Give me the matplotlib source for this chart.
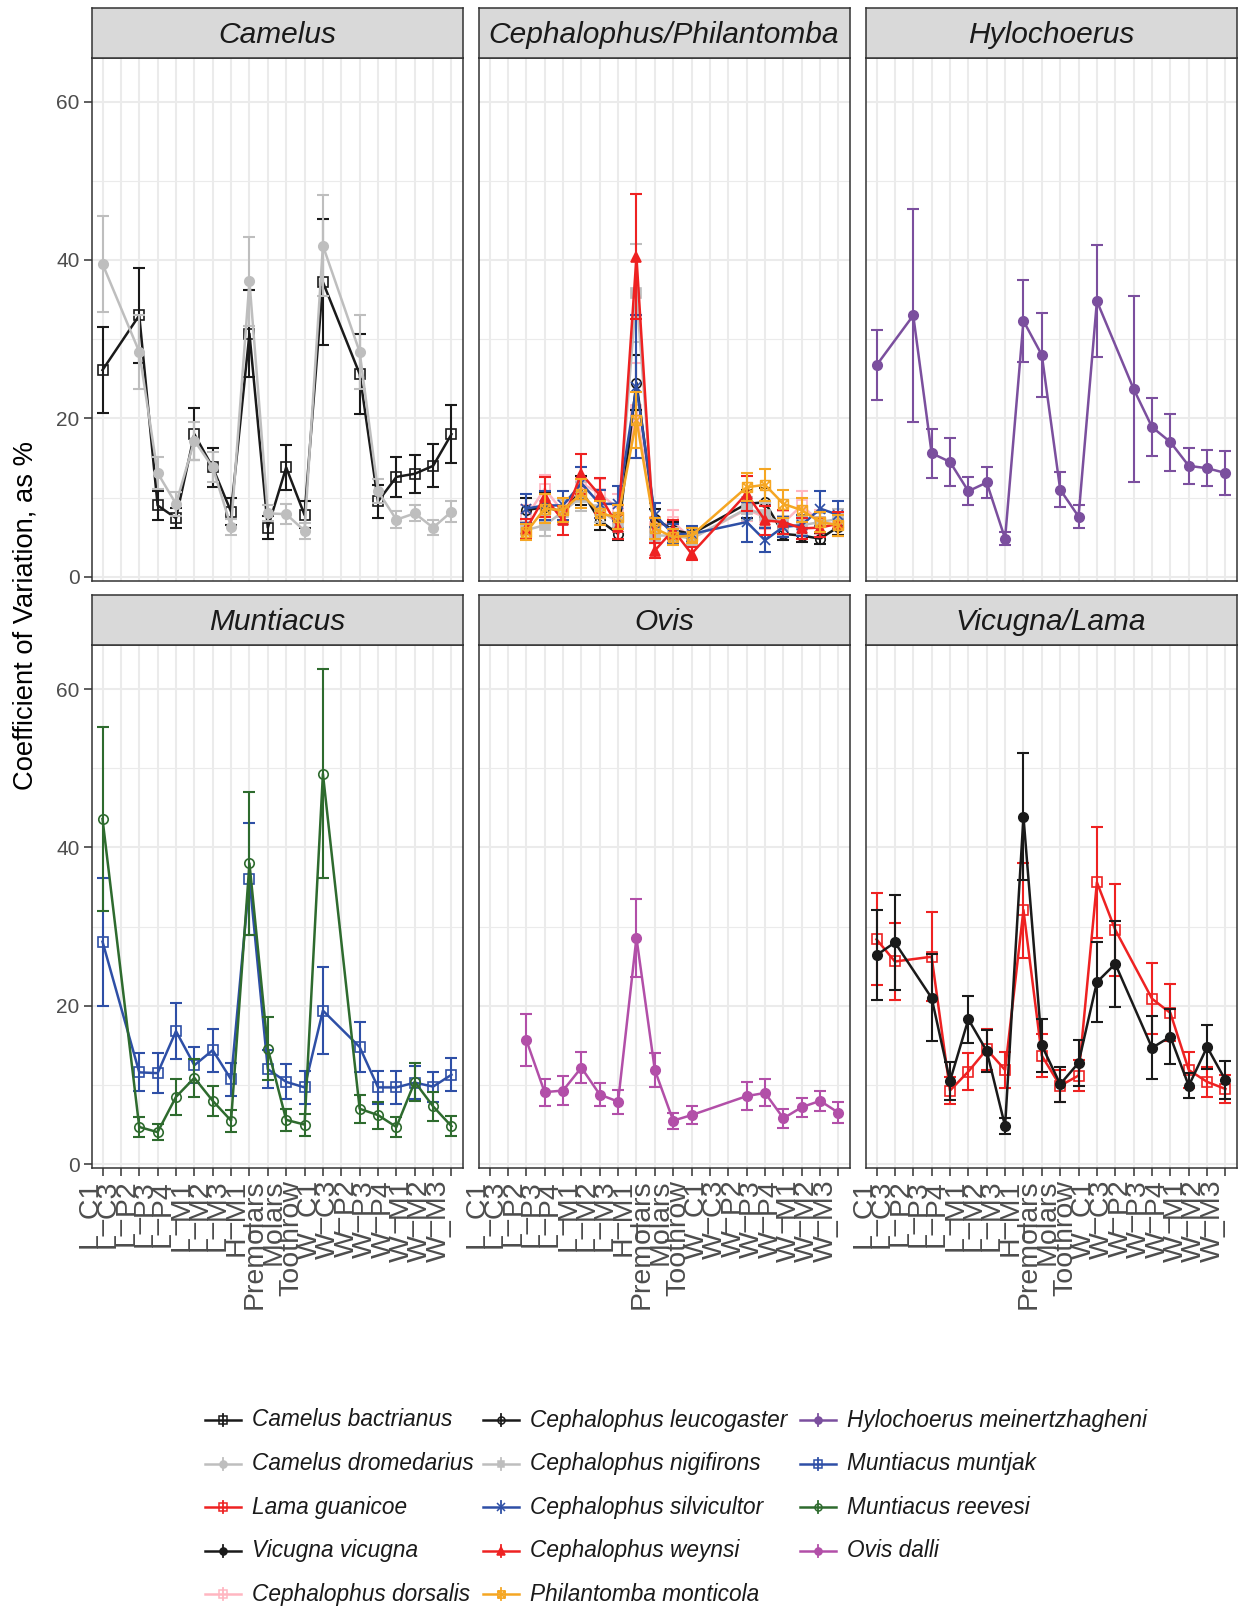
import numpy as np
import matplotlib.pyplot as plt
from matplotlib.path import Path

plt.rcParams['font.family'] = ['Liberation Sans', 'DejaVu Sans']

nan = np.nan

teeth = ['L_C1', 'L_C3', 'L_P2', 'L_P3', 'L_P4', 'L_M1', 'L_M2', 'L_M3', 'H_M1',
         'Premolars', 'Molars', 'Toothrow', 'W_C1', 'W_C3', 'W_P2', 'W_P3',
         'W_P4', 'W_M1', 'W_M2', 'W_M3']

# mean CV and half width of the error bar, one value per tooth measure
camelus_bactrianus = [26.1, nan, 33.0, 9.0, 7.4, 18.0, 13.8, 8.2, 30.7, 6.2,
                      13.8, 7.8, 37.2, nan, 25.6, 9.5, 12.6, 13.0, 14.0, 18.0]
camelus_bactrianus_err = [5.4, nan, 6.0, 1.8, 1.3, 3.3, 2.5, 1.7, 5.5, 1.5,
                          2.8, 1.7, 8.0, nan, 5.0, 2.1, 2.5, 2.4, 2.7, 3.7]
camelus_dromedarius = [39.5, nan, 28.4, 13.1, 9.2, 17.2, 13.8, 6.3, 37.3, 8.0,
                       7.9, 5.8, 41.8, nan, 28.4, 10.8, 7.2, 8.0, 6.2, 8.2]
camelus_dromedarius_err = [6.1, nan, 4.7, 2.0, 1.5, 2.4, 1.9, 1.0, 5.6, 1.0,
                           1.3, 1.0, 6.4, nan, 4.7, 1.5, 1.1, 1.0, 0.9, 1.3]

ceph_leucogaster = [nan, nan, 8.4, 8.8, 8.2, 10.9, 7.1, 5.4, 24.5, 7.3,
                    5.9, 5.4, nan, nan, 9.2, 9.4, 5.4, 5.2, 4.8, 6.3]
ceph_leucogaster_err = [nan, nan, 1.5, 1.8, 1.5, 1.8, 1.2, 0.8, 3.5, 1.2,
                        1.0, 0.9, nan, nan, 1.8, 1.8, 0.8, 0.8, 0.7, 1.0]
ceph_nigifirons = [nan, nan, 5.9, 6.5, 8.2, 10.1, 8.4, 6.8, 35.8, 5.2,
                   5.2, 4.8, nan, nan, 8.6, 7.8, 6.5, 6.5, 6.9, 7.3]
ceph_nigifirons_err = [nan, nan, 1.0, 1.3, 1.5, 1.8, 1.5, 1.2, 6.2, 1.0,
                       1.0, 0.8, nan, nan, 1.5, 1.5, 1.2, 1.2, 1.2, 1.3]
ceph_silvicultor = [nan, nan, 8.6, 9.0, 9.0, 11.8, 9.2, 9.2, 24.0, 7.8,
                    5.4, 5.4, nan, nan, 6.9, 4.6, 6.3, 6.5, 8.6, 7.8]
ceph_silvicultor_err = [nan, nan, 1.8, 1.8, 1.8, 2.0, 1.8, 2.2, 9.0, 1.5,
                        1.2, 1.0, nan, nan, 2.5, 1.5, 1.3, 1.3, 2.2, 1.8]
ceph_weynsi = [nan, nan, 6.0, 10.1, 7.1, 13.0, 10.3, 6.3, 40.4, 3.3,
               5.9, 2.9, nan, nan, 10.5, 7.1, 6.9, 6.1, 6.2, 6.7]
ceph_weynsi_err = [nan, nan, 1.3, 2.5, 1.8, 2.5, 2.2, 1.5, 7.9, 1.0,
                   1.2, 0.8, nan, nan, 2.2, 1.8, 1.5, 1.3, 1.2, 1.5]
ceph_dorsalis = [nan, nan, 7.5, 11.1, 8.2, 11.8, 10.5, 8.6, 21.0, 6.3,
                 6.9, 4.8, nan, nan, 8.5, 7.5, 6.8, 9.0, 6.9, 6.6]
ceph_dorsalis_err = [nan, nan, 1.5, 1.8, 1.5, 2.0, 1.8, 1.8, 6.0, 1.3,
                     1.5, 1.0, nan, nan, 1.5, 1.5, 1.5, 1.8, 1.5, 1.3]
phil_monticola = [nan, nan, 5.6, 8.6, 8.4, 10.5, 8.0, 7.5, 19.8, 6.1,
                  5.0, 5.2, nan, nan, 11.3, 11.6, 9.2, 8.4, 6.9, 6.5]
phil_monticola_err = [nan, nan, 1.0, 1.8, 1.5, 1.8, 1.5, 1.5, 3.5, 1.3,
                      1.0, 1.0, nan, nan, 1.8, 2.0, 1.8, 1.5, 1.3, 1.3]

hylochoerus = [26.7, nan, 33.0, 15.6, 14.5, 10.8, 11.9, 4.8, 32.3, 28.0,
               11.0, 7.6, 34.8, nan, 23.7, 18.9, 17.0, 14.0, 13.7, 13.1]
hylochoerus_err = [4.4, nan, 13.5, 3.1, 3.0, 1.8, 2.0, 0.8, 5.2, 5.3,
                   2.2, 1.5, 7.1, nan, 11.8, 3.7, 3.6, 2.3, 2.3, 2.8]

munt_muntjak = [28.1, nan, 11.6, 11.5, 16.8, 12.5, 14.4, 10.7, 36.0, 12.0,
                10.4, 9.7, 19.4, nan, 14.8, 9.7, 9.7, 10.3, 9.8, 11.3]
munt_muntjak_err = [8.1, nan, 2.4, 2.5, 3.5, 2.3, 2.7, 2.1, 7.1, 2.4,
                    2.2, 2.1, 5.5, nan, 3.1, 2.1, 2.1, 2.1, 1.9, 2.1]
munt_reevesi = [43.6, nan, 4.7, 4.05, 8.5, 10.9, 8.0, 5.5, 38.0, 14.6,
                5.6, 5.0, 49.3, nan, 7.0, 6.2, 4.7, 10.4, 7.3, 4.8]
munt_reevesi_err = [11.6, nan, 1.3, 1.0, 2.3, 2.4, 1.9, 1.4, 9.0, 4.0,
                    1.4, 1.4, 13.2, nan, 1.8, 1.7, 1.3, 2.4, 1.8, 1.3]

ovis_dalli = [nan, nan, 15.7, 9.1, 9.3, 12.2, 8.8, 7.9, 28.6, 11.9,
              5.5, 6.2, nan, nan, 8.6, 9.0, 5.8, 7.2, 8.0, 6.5]
ovis_dalli_err = [nan, nan, 3.3, 1.7, 1.8, 2.0, 1.5, 1.5, 4.9, 2.2,
                  1.0, 1.1, nan, nan, 1.8, 1.7, 1.2, 1.2, 1.3, 1.3]

vicugna = [26.4, 28.0, nan, 21.0, 10.5, 18.3, 14.3, 4.8, 43.9, 15.0,
           10.1, 12.8, 23.0, 25.3, nan, 14.7, 16.1, 9.9, 14.8, 10.6]
vicugna_err = [5.7, 6.0, nan, 5.5, 2.4, 3.0, 2.6, 1.0, 8.0, 3.3,
               2.2, 2.9, 5.0, 5.4, nan, 4.0, 3.5, 1.6, 2.8, 2.4]
lama = [28.4, 25.6, nan, 26.2, 9.3, 11.7, 14.5, 11.9, 32.1, 13.7,
        9.9, 11.2, 35.6, 29.6, nan, 20.9, 19.1, 11.9, 10.4, 9.5]
lama_err = [5.8, 4.9, nan, 5.6, 1.7, 2.3, 2.6, 2.3, 6.0, 2.7,
            2.0, 2.0, 7.0, 5.8, nan, 4.5, 3.6, 2.3, 1.9, 1.8]

# square with a cross, like ggplot shape 7
sq_x = Path([(-1, -1), (1, -1), (1, 1), (-1, 1), (-1, -1),
             (-1, -1), (1, 1), (-1, 1), (1, -1)],
            [Path.MOVETO, Path.LINETO, Path.LINETO, Path.LINETO, Path.CLOSEPOLY,
             Path.MOVETO, Path.LINETO, Path.MOVETO, Path.LINETO])

# name: (mean, err, colour, marker, hollow, marker size)
series = {
    'Camelus bactrianus': (camelus_bactrianus, camelus_bactrianus_err, '#1A1A1A', 's', True, 7.0),
    'Camelus dromedarius': (camelus_dromedarius, camelus_dromedarius_err, '#BEBEBE', 'o', False, 6.8),
    'Lama guanicoe': (lama, lama_err, '#EE2222', 's', True, 7.0),
    'Vicugna vicugna': (vicugna, vicugna_err, '#1A1A1A', 'o', False, 6.8),
    'Cephalophus dorsalis': (ceph_dorsalis, ceph_dorsalis_err, '#FFB6C1', 's', True, 7.0),
    'Cephalophus leucogaster': (ceph_leucogaster, ceph_leucogaster_err, '#1A1A1A', 'o', True, 6.8),
    'Cephalophus nigifirons': (ceph_nigifirons, ceph_nigifirons_err, '#BEBEBE', 's', False, 6.5),
    'Cephalophus silvicultor': (ceph_silvicultor, ceph_silvicultor_err, '#2E4FA6', 'x', True, 7.0),
    'Cephalophus weynsi': (ceph_weynsi, ceph_weynsi_err, '#EE2222', '^', False, 7.8),
    'Philantomba monticola': (phil_monticola, phil_monticola_err, '#F5A623', sq_x, True, 7.0),
    'Hylochoerus meinertzhagheni': (hylochoerus, hylochoerus_err, '#7B4F9E', 'o', False, 6.8),
    'Muntiacus muntjak': (munt_muntjak, munt_muntjak_err, '#2E4FA6', 's', True, 7.0),
    'Muntiacus reevesi': (munt_reevesi, munt_reevesi_err, '#2E6B2E', 'o', True, 6.8),
    'Ovis dalli': (ovis_dalli, ovis_dalli_err, '#B24FA8', 'o', False, 6.8),
}

panels = [
    ('Camelus', ['Camelus bactrianus', 'Camelus dromedarius']),
    ('Cephalophus/Philantomba', ['Cephalophus dorsalis', 'Cephalophus leucogaster',
                                 'Cephalophus nigifirons', 'Cephalophus silvicultor',
                                 'Cephalophus weynsi', 'Philantomba monticola']),
    ('Hylochoerus', ['Hylochoerus meinertzhagheni']),
    ('Muntiacus', ['Muntiacus muntjak', 'Muntiacus reevesi']),
    ('Ovis', ['Ovis dalli']),
    ('Vicugna/Lama', ['Lama guanicoe', 'Vicugna vicugna']),
]

W, H = 1238, 1609
fig = plt.figure(figsize=(W / 100, H / 100), dpi=100)


def px(x0, y0, w, h):
    return [x0 / W, 1 - (y0 + h) / H, w / W, h / H]


col_left = [91.5, 478.5, 865.5]
panel_w = 371
row_top = [57.5, 645]
panel_h = 523
strip_h = 50
x = np.arange(1, len(teeth) + 1)

for k, (title, names) in enumerate(panels):
    r, c = divmod(k, 3)
    ax = fig.add_axes(px(col_left[c], row_top[r], panel_w, panel_h))
    ax.set_xlim(0.4, 20.6)
    ax.set_ylim(-0.48, 65.57)
    ax.set_xticks(x)
    ax.set_yticks([0, 20, 40, 60])
    ax.set_yticks([10, 30, 50], minor=True)
    ax.grid(which='major', color='#EBEBEB', lw=1.5)
    ax.grid(which='minor', axis='y', color='#EBEBEB', lw=0.8)
    ax.set_axisbelow(True)
    for s in ax.spines.values():
        s.set_color('#333333')
        s.set_linewidth(1.1)
    ax.tick_params(which='minor', length=0)
    ax.tick_params(which='major', length=5.5, width=1.1, color='#333333',
                   labelcolor='#4D4D4D', pad=3)
    ax.tick_params(axis='y', labelsize=15)
    if c == 0:
        ax.set_yticklabels(['0', '20', '40', '60'])
    else:
        ax.tick_params(axis='y', left=False, labelleft=False)
    if r == 1:
        ax.set_xticklabels(teeth, rotation=90, ha='right', va='top', fontsize=20.5)
    else:
        ax.tick_params(axis='x', bottom=False, labelbottom=False)

    for i, name in enumerate(names):
        mean, err, color, marker, hollow, ms = series[name]
        mean = np.array(mean)
        err = np.array(err)
        m = ~np.isnan(mean)
        z = 3 + i
        ax.errorbar(x[m], mean[m], yerr=err[m], fmt='none', ecolor=color,
                    elinewidth=1.5, capsize=4.5, capthick=1.5, zorder=z)
        ax.plot(x[m], mean[m], color=color, lw=1.8, zorder=z)
        ax.plot(x[m], mean[m], ls='none', marker=marker, ms=ms, color=color,
                mfc='none' if hollow else color, mew=1.2, zorder=z)

    sax = fig.add_axes(px(col_left[c], row_top[r] - strip_h, panel_w, strip_h))
    sax.set_facecolor('#D9D9D9')
    sax.set_xticks([])
    sax.set_yticks([])
    for s in sax.spines.values():
        s.set_color('#333333')
        s.set_linewidth(1.1)
    sax.text(0.5, 0.45, title, ha='center', va='center', fontsize=21.5,
             style='italic', color='#1A1A1A', transform=sax.transAxes)

fig.text(25.7 / W, 1 - 615 / H, 'Coefficient of Variation, as %', rotation=90,
         ha='center', va='center', fontsize=19.7, color='#000000')

# legend, three columns filled top to bottom
leg = fig.add_axes([0, 0, 1, 1])
leg.set_xlim(0, W)
leg.set_ylim(H, 0)
leg.axis('off')
key_x = [205, 483, 800]
for i, name in enumerate(series):
    mean, err, color, marker, hollow, ms = series[name]
    cx = key_x[i // 5]
    cy = 1420 + (i % 5) * 43.6
    leg.plot([cx, cx + 36], [cy, cy], color=color, lw=1.8)
    leg.plot([cx + 18, cx + 18], [cy - 6, cy + 6], color=color, lw=1.3)
    leg.plot([cx + 18], [cy], marker=marker, ms=ms * 0.75, color=color,
             mfc='none' if hollow else color, mew=1.1)
    leg.text(cx + 47, cy, name, ha='left', va='center', fontsize=16.3,
             style='italic', color='#1A1A1A')

fig.savefig('out.png', dpi=100)
